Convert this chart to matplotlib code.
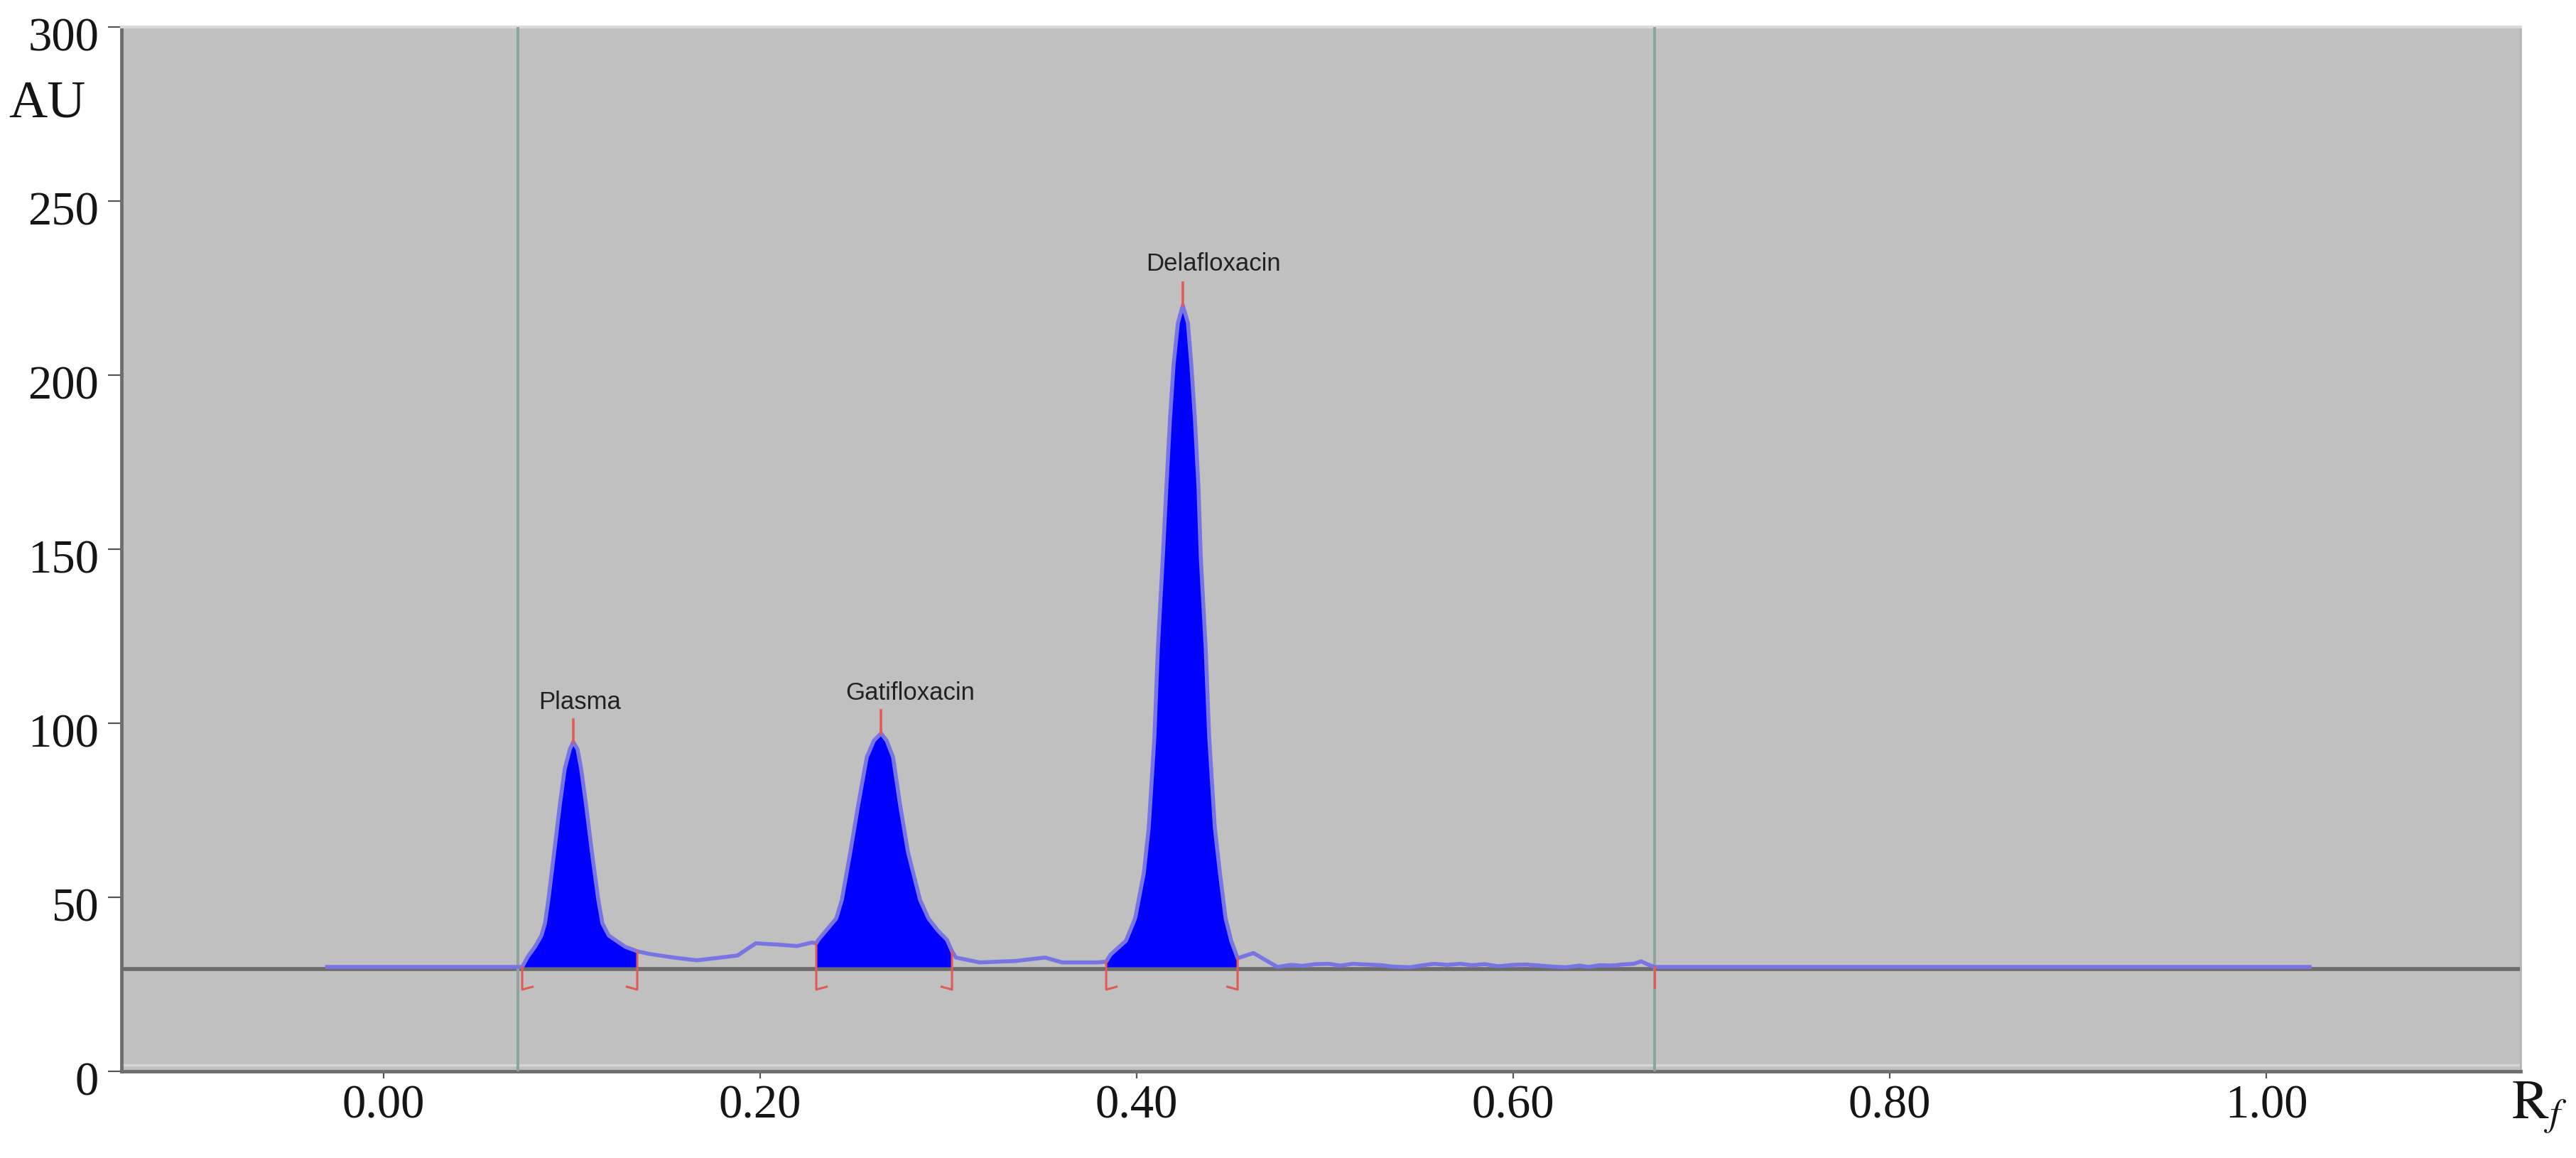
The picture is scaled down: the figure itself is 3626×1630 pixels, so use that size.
import numpy as np
import matplotlib
matplotlib.use("Agg")
import matplotlib.pyplot as plt
import matplotlib.transforms as mtransforms

plt.rcParams['mathtext.fontset'] = 'stix'

# densitogram trace (Rf, AU)
trace_rf = [-0.030, 0.0736, 0.0766, 0.0804, 0.0838, 0.0857, 0.0875, 0.0906, 0.0936, 0.0962,
            0.0989, 0.1007, 0.1030, 0.1049, 0.1075, 0.1106, 0.1140, 0.1162, 0.1196, 0.1283,
            0.1347, 0.1415, 0.1540, 0.1664, 0.1790, 0.1880, 0.1977, 0.2100, 0.2196, 0.2275,
            0.2298, 0.2309, 0.2351, 0.2404, 0.2434, 0.2479, 0.2521, 0.2566, 0.2604, 0.2642,
            0.2672, 0.2706, 0.2743, 0.2785, 0.2849, 0.2894, 0.2943, 0.2992, 0.3019, 0.3040,
            0.3166, 0.3355, 0.3513, 0.3604, 0.3790, 0.3838, 0.3860, 0.3943, 0.3992, 0.4038,
            0.4064, 0.4094, 0.4113, 0.4139, 0.4158, 0.4177, 0.4196, 0.4219, 0.4245, 0.4272,
            0.4290, 0.4309, 0.4328, 0.4340, 0.4366, 0.4385, 0.4415, 0.4442, 0.4472, 0.4502,
            0.4536, 0.4620, 0.4747, 0.4820, 0.4880, 0.4950, 0.5020, 0.5080, 0.5150, 0.5220,
            0.5300, 0.5360, 0.5450, 0.5520, 0.5580, 0.5650, 0.5720, 0.5780, 0.5850, 0.5920,
            0.6000, 0.6070, 0.6140, 0.6210, 0.6280, 0.6350, 0.6400, 0.6460, 0.6520, 0.6580,
            0.6640, 0.6680, 0.6720, 0.6750, 1.0230]
trace_au = [30.0, 30.0, 33.0, 35.8, 39.0, 42.5, 49.3, 63.0, 76.6, 86.9,
            92.5, 94.6, 92.5, 86.9, 76.6, 63.0, 49.3, 42.5, 39.0, 35.8,
            34.5, 33.7, 32.7, 31.9, 32.7, 33.3, 36.8, 36.4, 36.0, 37.0,
            36.8, 37.8, 40.5, 43.9, 49.3, 63.0, 76.6, 90.2, 95.0, 97.1,
            95.0, 90.2, 76.6, 63.0, 49.3, 43.9, 40.5, 37.8, 34.5, 32.7,
            31.3, 31.7, 32.7, 31.3, 31.3, 31.5, 33.5, 37.5, 44.0, 57.0,
            70.0, 96.0, 122.0, 148.0, 168.0, 187.5, 203.0, 215.0, 220.0, 215.0,
            203.0, 187.5, 168.0, 148.0, 122.0, 96.0, 70.0, 57.0, 44.0, 37.5,
            32.5, 34.0, 30.0, 30.6, 30.3, 30.8, 30.9, 30.4, 30.9, 30.7,
            30.5, 30.1, 29.9, 30.5, 30.9, 30.6, 30.9, 30.5, 30.8, 30.2,
            30.6, 30.7, 30.4, 30.1, 29.9, 30.4, 30.0, 30.5, 30.4, 30.7,
            30.9, 31.6, 30.6, 30.0, 30.0]

baseline_au = 30.0

peak_names = ["Plasma", "Gatifloxacin", "Delafloxacin"]
peak_rf = [0.1007, 0.2642, 0.4245]
peak_au = [94.6, 97.1, 220.0]
peak_start = [0.0736, 0.2298, 0.3838]
peak_end = [0.1347, 0.3019, 0.4536]
label_rf = [0.0823, 0.2453, 0.4050]
label_au = [106.0, 108.6, 232.0]

track_lines = [0.0713, 0.675]

x = np.array(trace_rf)
y = np.array(trace_au)

fig = plt.figure(figsize=(36.26, 16.30), dpi=100)
ax = fig.add_axes([0.0472, 0.0748, 0.9313, 0.9019])
ax.set_facecolor('#c0c0c0')

ax.set_xlim(-0.1392, 1.1351)
ax.set_ylim(0, 300)

# light inner frame line
ax.axhline(1.8, color='#d6d6d6', lw=2.5, zorder=1)

# baseline across the whole plate
ax.axhline(baseline_au - 0.6, color='#6b6b6b', lw=4.0, zorder=2)

for xl in track_lines:
    ax.axvline(xl, color='#8aa59d', lw=2.8, zorder=3)

# peak areas
for s, e in zip(peak_start, peak_end):
    m = (x >= s - 1e-9) & (x <= e + 1e-9)
    ax.fill_between(x[m], y[m], baseline_au, color='#0000ff', lw=0, zorder=4)

ax.plot(x, y, color='#7874e4', lw=4.0, zorder=5, solid_joinstyle='round')

# integration marks
red = '#e25a55'
hook = 0.0055
for s, e in zip(peak_start, peak_end):
    ys = np.interp(s, x, y)
    ye = np.interp(e, x, y)
    ax.plot([s, s, s + hook], [ys, 23.5, 24.3], color=red, lw=2.2, zorder=6)
    ax.plot([e, e, e - hook], [ye, 23.5, 24.3], color=red, lw=2.2, zorder=6)
for px, py in zip(peak_rf, peak_au):
    ax.plot([px, px], [py, py + 6.5], color=red, lw=2.6, zorder=6)
ax.plot([track_lines[1], track_lines[1]], [baseline_au, 24.0], color=red, lw=2.2, zorder=6)

for name, lx, ly in zip(peak_names, label_rf, label_au):
    ax.text(lx, ly, name, fontsize=25, family='Liberation Sans', color='#222222',
            ha='left', va='center', zorder=7)

# axes styling
for side in ['left', 'bottom']:
    ax.spines[side].set_color('#6e6e6e')
    ax.spines[side].set_linewidth(3.5)
ax.spines['top'].set_color('#dadada')
ax.spines['top'].set_linewidth(3)
ax.spines['right'].set_color('#b3b3b3')
ax.spines['right'].set_linewidth(2)

ax.set_xticks([0, 0.2, 0.4, 0.6, 0.8, 1.0])
ax.set_xticklabels(['0.00', '0.20', '0.40', '0.60', '0.80', '1.00'])
ax.set_yticks([0, 50, 100, 150, 200, 250, 300])
ax.tick_params(axis='x', direction='out', length=7, width=1.6, color='#555555', pad=6,
               labelsize=48, labelcolor='#151515')
ax.tick_params(axis='y', direction='out', length=14, width=1.6, color='#555555', pad=9,
               labelsize=48, labelcolor='#151515')
for lab in ax.get_xticklabels() + ax.get_yticklabels():
    lab.set_family('Liberation Serif')
off = mtransforms.ScaledTranslation(0, -10 / 100, fig.dpi_scale_trans)
for lab in ax.get_yticklabels():
    lab.set_transform(lab.get_transform() + off)

ax.text(-0.031, 0.926, 'AU', transform=ax.transAxes, fontsize=54, family='Liberation Serif',
        color='#151515', ha='center', va='center')
ax.text(0.9962, -0.035, r'$\mathrm{R}_{f}$', transform=ax.transAxes, fontsize=56,
        color='#151515', ha='left', va='center')

fig.savefig('out.png', dpi=100)
